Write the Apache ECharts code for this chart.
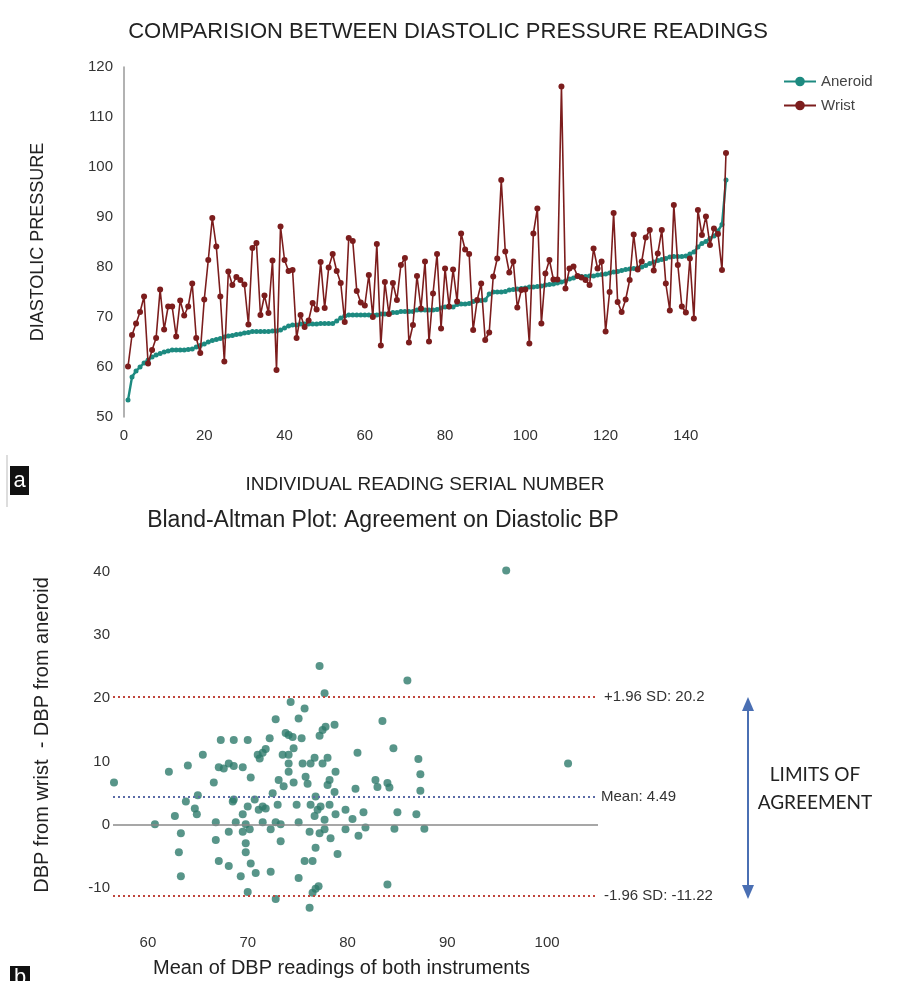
<!DOCTYPE html>
<html><head><meta charset="utf-8">
<script src="https://cdn.jsdelivr.net/npm/echarts@6/dist/echarts.min.js"></script>
<style>html,body{margin:0;padding:0;background:#fff}#c{width:897px;height:981px}</style>
</head><body><div id="c"></div>
<script>
// ---- Panel a: diastolic readings per serial number ----
const aneroid = [53.4,58,59.2,60,60.8,61.4,62,62.4,62.7,63,
63.2,63.4,63.4,63.4,63.4,63.5,63.6,64,64.3,64.6,
65,65.3,65.5,65.7,66,66.2,66.3,66.5,66.6,66.8,
66.9,67.1,67.1,67.1,67.1,67.1,67.2,67.2,67.4,67.8,
68.2,68.4,68.4,68.6,68.6,68.6,68.6,68.6,68.7,68.7,
68.7,68.7,69.2,69.8,70.2,70.4,70.4,70.4,70.4,70.4,
70.4,70.4,70.4,70.6,70.6,70.6,70.9,70.9,71.1,71.1,
71.1,71.1,71.4,71.4,71.4,71.4,71.4,71.5,71.8,72,
72,72,72.5,72.6,72.6,72.7,73.1,73.2,73.3,73.4,
74.6,75,75,75,75.1,75.4,75.5,75.6,75.7,75.8,
76,76,76.1,76.2,76.4,76.5,76.6,76.8,77,77.2,
77.6,77.8,78.1,78.1,78.1,78.2,78.2,78.4,78.5,78.6,
78.8,79,79.1,79.3,79.5,79.6,79.7,79.8,80,80.3,
80.7,81,81.3,81.5,81.7,82,82.1,82.1,82.1,82.2,
82.6,83,84,84.7,85.1,85.7,86.2,87.2,88.5,97.4];
const wrist = [60.1,66.4,68.7,71,74.1,60.7,63.4,65.8,75.5,67.5,
72.1,72.1,66.1,73.3,70.3,72.1,76.7,65.8,62.8,73.5,
81.4,89.8,84.1,74.1,61.1,79.1,76.4,78,77.4,76.5,
68.5,83.8,84.8,70.4,74.3,70.8,81.3,59.4,88.1,81.4,
79.2,79.4,65.8,70.4,68,69.3,72.8,71.5,81,71.8,
79.9,82.6,79.2,76.8,69,85.8,85.2,75.2,72.9,72.3,
78.4,70,84.6,64.3,77,70.6,76.8,73.4,80.4,81.8,
64.9,68.4,78.2,71.7,81.1,65.1,74.7,82.6,67.7,79.7,
72.1,79.5,73.1,86.7,83.5,82.6,67.4,73.4,76.7,65.4,
66.9,78.1,81.7,97.4,83.1,78.9,81.1,71.9,75.4,75.5,
64.7,86.7,91.7,68.7,78.7,81.4,77.5,77.5,116.1,75.7,
79.7,80.1,78.2,77.9,77.4,76.4,83.7,79.7,81.1,67.1,
75,90.8,73,71,73.5,77.4,86.5,79.5,81.1,85.9,
87.4,79.3,82.7,87.4,76.7,71.3,92.4,80.4,72.1,70.9,
81.7,69.7,91.4,86.4,90.1,84.4,87.7,86.6,79.4,102.8];
const seriesNames = ['Aneroid', 'Wrist'];

// ---- Panel b: Bland-Altman ----
const baMean = [56.6,60.7,62.1,62.7,63.3,63.1,63.3,64.0,63.8,64.7,
64.9,65.0,65.5,66.6,66.8,66.8,67.1,67.3,67.1,67.6,
68.1,68.6,68.1,68.1,68.6,68.5,68.6,68.8,69.5,69.5,
69.5,69.3,70.0,69.8,69.8,69.8,70.0,70.0,70.2,70.3,
70.3,70.7,70.8,71.0,71.2,71.5,71.8,71.1,71.5,71.8,
71.5,72.2,72.3,72.3,72.5,72.8,72.8,72.8,73.0,73.1,
73.3,73.3,73.5,73.6,73.8,74.1,74.1,74.1,74.1,74.3,
74.5,74.6,74.6,74.9,75.1,75.1,75.1,75.4,75.7,75.5,
75.8,76.0,75.7,76.5,76.2,76.2,76.3,76.3,76.7,76.8,
76.8,76.5,76.8,77.1,76.7,77.0,77.3,77.2,77.2,77.7,
77.2,77.5,77.8,78.7,77.5,78.0,77.7,77.7,78.0,78.2,
78.2,78.3,78.7,78.8,78.8,79.0,79.8,79.8,95.9,86.0,
83.5,84.6,81.0,87.1,87.3,87.3,82.8,83.0,84.0,84.2,
80.8,81.6,80.5,85.0,86.9,81.8,81.1,84.7,87.7,84.0,102.1];
const baDiff = [6.7,0.1,8.4,1.4,-1.3,-4.3,-8.1,9.4,3.7,2.6,
1.7,4.7,11.1,6.7,0.4,-2.4,-5.7,13.4,9.1,8.9,
9.7,9.3,-1.1,-6.5,13.4,3.7,4.0,0.4,9.1,1.7,
-1.1,-8.1,13.4,0.1,-2.9,-4.3,-10.6,2.9,-0.7,7.5,
-6.1,4.0,-7.6,11.1,10.5,11.4,12.0,2.4,2.9,2.6,
0.4,13.7,-7.4,-0.7,5.0,16.7,0.4,-11.7,3.2,7.1,
0.1,-2.6,11.1,6.1,14.5,14.2,11.1,9.7,8.4,19.4,
13.9,12.1,6.7,3.2,0.4,-8.4,16.8,13.7,18.4,9.7,
7.6,6.5,-5.7,-5.7,-1.1,-13.1,3.2,9.7,10.6,4.5,
-3.6,-10.7,-10.1,-9.7,1.4,2.4,2.9,-1.3,25.1,20.8,
14.1,15.0,15.5,15.8,9.7,10.6,0.8,-0.7,6.3,7.1,
3.2,-2.1,5.2,8.4,1.7,-4.6,2.4,-0.7,40.2,22.8,
16.4,12.1,11.4,10.4,8.0,5.4,7.1,6.0,6.6,5.9,
5.7,2.0,0.95,2.0,1.7,-0.4,-1.7,-0.6,-0.6,-9.4,9.7];
const limitValues = [20.2, 4.49, -11.22];
const limitLabels = ['+1.96 SD: 20.2', 'Mean: 4.49', '-1.96 SD: -11.22'];

const C_AN = '#1d8a80', C_WR = '#7c1d1d', C_PT = '#2e7b6c';
const FONT = '"Liberation Sans", Arial, sans-serif';

const chart = echarts.init(document.getElementById('c'), null, {renderer: 'canvas'});
const option = {
  backgroundColor: '#fff',
  animation: false,
  textStyle: {fontFamily: FONT},
  title: [
    {text: 'COMPARISION BETWEEN DIASTOLIC PRESSURE READINGS', left: 448, top: 32, textAlign: 'center', textVerticalAlign: 'middle', padding: 0,
     textStyle: {fontSize: 22, fontWeight: 'normal', color: '#222', fontFamily: FONT}},
    {text: 'Bland-Altman Plot: Agreement on Diastolic BP', left: 383, top: 521, textAlign: 'center', textVerticalAlign: 'middle', padding: 0,
     textStyle: {fontSize: 23, fontWeight: 'normal', color: '#222', fontFamily: FONT}}
  ],
  legend: {
    data: seriesNames, orient: 'vertical', left: 778, top: 69, itemWidth: 32, itemHeight: 12, itemGap: 9,
    textStyle: {fontSize: 15, color: '#444', fontFamily: FONT}
  },
  grid: [
    {left: 124, top: 67, width: 602, height: 350},
    {left: 113, top: 540, width: 485, height: 390}
  ],
  xAxis: [
    {type: 'value', gridIndex: 0, min: 0, max: 150, interval: 20,
     axisLine: {show: false}, axisTick: {show: false}, splitLine: {show: false},
     axisLabel: {fontSize: 15, color: '#333', margin: 11, showMaxLabel: false},
     name: 'INDIVIDUAL READING SERIAL NUMBER', nameLocation: 'middle', nameGap: 58,
     nameTextStyle: {fontSize: 19, color: '#222', fontFamily: FONT}},
    {type: 'value', gridIndex: 1, min: 56.5, max: 105.1, splitNumber: 5,
     axisLine: {show: false}, axisTick: {show: false}, splitLine: {show: false},
     axisLabel: {fontSize: 15, color: '#333', margin: 5, showMinLabel: false, showMaxLabel: false},
     name: 'Mean of DBP readings of both instruments', nameLocation: 'middle', nameGap: 28,
     nameTextStyle: {fontSize: 20, color: '#222', padding: [0, 28, 0, 0]}}
  ],
  yAxis: [
    {type: 'value', gridIndex: 0, min: 50, max: 120, interval: 10,
     axisLine: {show: true, lineStyle: {color: '#999', width: 1.5}}, axisTick: {show: false}, splitLine: {show: false},
     axisLabel: {fontSize: 15, color: '#333', margin: 11},
     name: 'DIASTOLIC PRESSURE', nameLocation: 'middle', nameGap: 77,
     nameTextStyle: {fontSize: 18, color: '#222'}},
    {type: 'value', gridIndex: 1, min: -16.6, max: 45, splitNumber: 6,
     axisLine: {show: false}, axisTick: {show: false}, splitLine: {show: false},
     axisLabel: {fontSize: 15, color: '#333', margin: 3, showMinLabel: false, showMaxLabel: false},
     name: 'DBP from wrist  - DBP from aneroid', nameLocation: 'middle', nameGap: 61,
     nameTextStyle: {fontSize: 20, color: '#222'}}
  ],
  series: [
    {name: seriesNames[0], type: 'line', xAxisIndex: 0, yAxisIndex: 0,
     data: aneroid.map((v, i) => [i + 1, v]),
     symbol: 'circle', symbolSize: 5, itemStyle: {color: C_AN}, lineStyle: {color: C_AN, width: 2.4}, z: 2},
    {name: seriesNames[1], type: 'line', xAxisIndex: 0, yAxisIndex: 0,
     data: wrist.map((v, i) => [i + 1, v]),
     symbol: 'circle', symbolSize: 6, itemStyle: {color: C_WR}, lineStyle: {color: C_WR, width: 1.6}, z: 3},
    {name: 'Difference', type: 'scatter', xAxisIndex: 1, yAxisIndex: 1,
     data: baMean.map((m, i) => [m, baDiff[i]]),
     symbol: 'circle', symbolSize: 8, itemStyle: {color: C_PT},
     markLine: {
       silent: true, symbol: 'none', animation: false,
       data: [
         {yAxis: 0, lineStyle: {color: '#8a8a8a', width: 1.6, type: 'solid'}, label: {show: false}},
         {yAxis: limitValues[0], lineStyle: {color: '#c0453c', width: 2, type: [2, 3]},
          label: {show: true, position: 'end', distance: 6, formatter: limitLabels[0], fontSize: 15, color: '#333'}},
         {yAxis: limitValues[1], lineStyle: {color: '#5a6aa6', width: 2, type: [2, 3]},
          label: {show: true, position: 'end', distance: 3, formatter: limitLabels[1], fontSize: 15, color: '#333'}},
         {yAxis: limitValues[2], lineStyle: {color: '#c0453c', width: 2, type: [2, 3]},
          label: {show: true, position: 'end', distance: 6, formatter: limitLabels[2], fontSize: 15, color: '#333'}}
       ]
     }}
  ]
};
chart.setOption(option);

const yUp = chart.convertToPixel({xAxisIndex: 1, yAxisIndex: 1}, [80, limitValues[0]])[1];
const yLo = chart.convertToPixel({xAxisIndex: 1, yAxisIndex: 1}, [80, limitValues[2]])[1];
const ax = 748, ARW = '#4a6fb3';
chart.setOption({
  graphic: [
    {type: 'line', shape: {x1: ax, y1: yUp + 10, x2: ax, y2: yLo - 10}, style: {stroke: ARW, lineWidth: 2}},
    {type: 'polygon', shape: {points: [[ax, yUp], [ax - 6, yUp + 14], [ax + 6, yUp + 14]]}, style: {fill: ARW}},
    {type: 'polygon', shape: {points: [[ax, yLo + 3], [ax - 6, yLo - 11], [ax + 6, yLo - 11]]}, style: {fill: ARW}},
    {type: 'text', x: 815, y: 775, style: {text: 'LIMITS OF', fontSize: 19, fontFamily: 'Lato, "Open Sans", sans-serif', fill: '#222', align: 'center', verticalAlign: 'middle'}},
    {type: 'text', x: 815, y: 803, style: {text: 'AGREEMENT', fontSize: 19, fontFamily: 'Lato, "Open Sans", sans-serif', fill: '#222', align: 'center', verticalAlign: 'middle'}},
    {type: 'line', shape: {x1: 7, y1: 455, x2: 7, y2: 507}, style: {stroke: '#bbb', lineWidth: 1}},
    {type: 'rect', shape: {x: 10, y: 466, width: 19, height: 29}, style: {fill: '#111'}},
    {type: 'text', x: 19.5, y: 481, style: {text: 'a', fontSize: 22, fontFamily: FONT, fill: '#fff', align: 'center', verticalAlign: 'middle'}},
    {type: 'rect', shape: {x: 10, y: 966, width: 20, height: 20}, style: {fill: '#111'}},
    {type: 'text', x: 20, y: 978, style: {text: 'b', fontSize: 22, fontFamily: FONT, fill: '#fff', align: 'center', verticalAlign: 'middle'}}
  ]
});
</script>
</body></html>
